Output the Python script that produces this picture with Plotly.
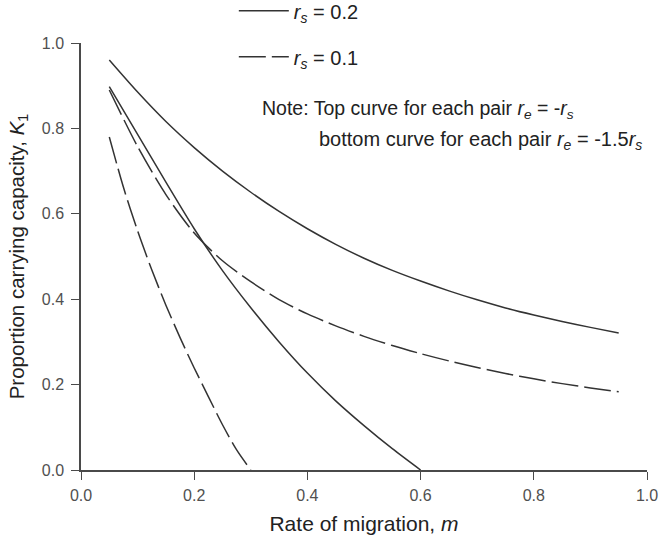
import plotly.graph_objects as go

# ---- data ----
m_grid = [0.05, 0.10, 0.15, 0.20, 0.25, 0.30, 0.35, 0.40, 0.45, 0.50,
          0.55, 0.60, 0.65, 0.70, 0.75, 0.80, 0.85, 0.90, 0.95]
# r_s = 0.2, r_e = -r_s (top solid)
k_rs02_top = [0.960, 0.885, 0.816, 0.755, 0.700, 0.6505, 0.6055, 0.565, 0.5285, 0.496,
              0.4675, 0.4425, 0.4195, 0.3985, 0.3795, 0.363, 0.348, 0.334, 0.321]
# r_s = 0.1, r_e = -r_s (top dashed)
k_rs01_top = [0.890, 0.7575, 0.645, 0.555, 0.490, 0.441, 0.399, 0.3655, 0.3375, 0.313,
              0.2915, 0.2725, 0.2555, 0.240, 0.226, 0.2135, 0.2023, 0.1923, 0.1833]

# r_s = 0.2, r_e = -1.5 r_s (bottom solid)
m_rs02_bot = [0.05, 0.10, 0.15, 0.20, 0.25, 0.30, 0.35, 0.40, 0.45, 0.50, 0.55, 0.60]
k_rs02_bot = [0.898, 0.786, 0.674, 0.565, 0.467, 0.380, 0.300, 0.227, 0.162, 0.104, 0.050, 0.0]

# r_s = 0.1, r_e = -1.5 r_s (bottom dashed)
m_rs01_bot = [0.05, 0.075, 0.10, 0.125, 0.15, 0.175, 0.20, 0.225, 0.25, 0.275, 0.30]
k_rs01_bot = [0.780, 0.662, 0.560, 0.469, 0.386, 0.310, 0.239, 0.172, 0.106, 0.047, 0.0]

tick_vals = [0.0, 0.2, 0.4, 0.6, 0.8, 1.0]
tick_text = ["0.0", "0.2", "0.4", "0.6", "0.8", "1.0"]

label_rs02 = "<i>r</i><sub><i>s</i></sub> = 0.2"
label_rs01 = "<i>r</i><sub><i>s</i></sub> = 0.1"

# ---- styling ----
FONT = "Liberation Sans, Arial, sans-serif"
LINE = "#333333"
AXIS = "#4a4a4a"
DASH = "27px,6px"

line_solid = dict(color=LINE, width=1.5, shape="spline", smoothing=0.8)
line_dash = dict(color=LINE, width=1.5, dash=DASH, shape="spline", smoothing=0.8)

fig = go.Figure()
fig.add_trace(go.Scatter(x=m_grid, y=k_rs02_top, mode="lines", name=label_rs02,
                         legendgroup="rs02", showlegend=True, line=line_solid))
fig.add_trace(go.Scatter(x=m_rs02_bot, y=k_rs02_bot, mode="lines", name=label_rs02,
                         legendgroup="rs02", showlegend=False, line=line_solid))
fig.add_trace(go.Scatter(x=m_grid, y=k_rs01_top, mode="lines", name=label_rs01,
                         legendgroup="rs01", showlegend=True, line=line_dash))
fig.add_trace(go.Scatter(x=m_rs01_bot, y=k_rs01_bot, mode="lines", name=label_rs01,
                         legendgroup="rs01", showlegend=False, line=line_dash))

axis_common = dict(
    range=[0, 1], tickmode="array", tickvals=tick_vals, ticktext=tick_text,
    ticks="outside", ticklen=8, tickwidth=1.2, tickcolor=AXIS,
    showline=True, linecolor=AXIS, linewidth=1.5,
    showgrid=False, zeroline=False,
    tickfont=dict(family=FONT, size=16, color="#505050"),
)

fig.update_layout(
    width=659, height=535,
    margin=dict(l=81, r=12, t=43, b=65, autoexpand=False),
    paper_bgcolor="white", plot_bgcolor="white",
    font=dict(family=FONT, color="#222222"),
    xaxis=dict(**axis_common, ticklabelstandoff=2,
               title=dict(text="Rate of migration, <i>m</i>",
                          font=dict(family=FONT, size=21, color="#222222"), standoff=14)),
    yaxis=dict(**axis_common, ticklabelstandoff=4,
               title=dict(text="Proportion carrying capacity, <i>K</i><sub>1</sub>",
                          font=dict(family=FONT, size=20.5, color="#222222"), standoff=12)),
    legend=dict(x=0.27, y=1.121, xanchor="left", yanchor="top",
                font=dict(family=FONT, size=20, color="#222222"),
                bgcolor="rgba(0,0,0,0)", traceorder="grouped", tracegroupgap=17,
                itemwidth=50),
    annotations=[
        dict(text="Note: Top curve for each pair <i>r</i><sub><i>e</i></sub> = -<i>r</i><sub><i>s</i></sub>",
             xref="paper", yref="paper", x=0.3165, y=0.844, xanchor="left", yanchor="middle",
             showarrow=False, font=dict(family=FONT, size=19.5, color="#222222")),
        dict(text="bottom curve for each pair <i>r</i><sub><i>e</i></sub> = -1.5<i>r</i><sub><i>s</i></sub>",
             xref="paper", yref="paper", x=0.417, y=0.771, xanchor="left", yanchor="middle",
             showarrow=False, font=dict(family=FONT, size=20, color="#222222")),
    ],
)

fig.write_html("out.html", config={"displayModeBar": False},
               post_script="document.body.style.margin='0px';")
